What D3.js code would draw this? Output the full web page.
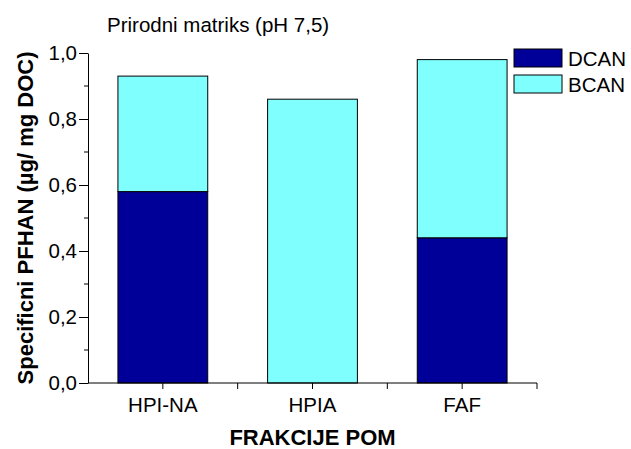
<!DOCTYPE html>
<html>
<head>
<meta charset="utf-8">
<script src="https://cdn.jsdelivr.net/npm/d3@7"></script>
<style>
  html, body { margin: 0; padding: 0; background: #fff; }
  svg { display: block; font-family: "Liberation Sans", Arial, sans-serif; }
</style>
</head>
<body>
<svg id="chart" width="631" height="449"></svg>
<script>
// Fractions and their stacked components
const categories = ["HPI-NA", "HPIA", "FAF"];
const seriesNames = ["DCAN", "BCAN"];
const dcan = [0.58, 0.0, 0.44];
const bcan = [0.35, 0.86, 0.54];
const yTicks = [0.0, 0.2, 0.4, 0.6, 0.8, 1.0];
const yMinorTicks = [0.1, 0.3, 0.5, 0.7, 0.9];
const colors = ["#000099", "#80FFFF"];

const svg = d3.select("#chart");
const margin = { left: 88, right: 94, top: 53, bottom: 66 };
const W = 631, H = 449;
const FS = 20.5;

const x = d3.scaleBand().domain(categories)
  .range([margin.left, W - margin.right]).paddingInner(0.4).paddingOuter(0.2);
const y = d3.scaleLinear().domain([0, 1]).range([H - margin.bottom, margin.top]);

const rows = categories.map((c, i) => ({ cat: c, DCAN: dcan[i], BCAN: bcan[i] }));
const stacked = d3.stack().keys(seriesNames)(rows);

// Stacked bars
svg.append("g").selectAll("g").data(stacked).join("g")
  .attr("fill", (d, i) => colors[i])
  .selectAll("rect").data(d => d.filter(v => v[1] - v[0] > 0)).join("rect")
  .attr("x", d => x(d.data.cat))
  .attr("width", x.bandwidth())
  .attr("y", d => y(d[1]))
  .attr("height", d => y(d[0]) - y(d[1]))
  .attr("stroke", "#000").attr("stroke-width", 1);

// Y axis with decimal-comma labels
const fmt = v => d3.format(".1f")(v).replace(".", ",");
const yAxis = svg.append("g").attr("transform", `translate(${margin.left},0)`)
  .call(d3.axisLeft(y).tickValues(yTicks).tickFormat(fmt).tickSize(9).tickPadding(2).tickSizeOuter(0));
yAxis.selectAll("text").attr("font-size", FS).attr("fill", "#000").attr("font-family", null);
yAxis.selectAll("line, path").attr("stroke", "#000");
// minor ticks
yAxis.selectAll("line.minor").data(yMinorTicks).join("line")
  .attr("class", "minor").attr("x1", -4).attr("x2", 0)
  .attr("y1", d => y(d)).attr("y2", d => y(d)).attr("stroke", "#000");

// X axis: ticks at category centres and band boundaries
const x0 = margin.left, x1 = W - margin.right;
const step = (x1 - x0) / categories.length;
const xg = svg.append("g");
xg.append("line").attr("x1", x0).attr("x2", x1)
  .attr("y1", y(0)).attr("y2", y(0)).attr("stroke", "#000");
const tickXs = d3.range(1, categories.length * 2 + 1).map(k => x0 + k * step / 2);
xg.selectAll("line.t").data(tickXs).join("line").attr("class", "t")
  .attr("x1", d => d).attr("x2", d => d)
  .attr("y1", y(0)).attr("y2", y(0) + 6).attr("stroke", "#000");
xg.selectAll("text").data(categories).join("text")
  .attr("x", d => x(d) + x.bandwidth() / 2).attr("y", 412)
  .attr("text-anchor", "middle").attr("font-size", FS).text(d => d);

// Titles
svg.append("text").attr("x", 107).attr("y", 32).attr("font-size", FS).text("Prirodni matriks (pH 7,5)");
svg.append("text").attr("x", (x0 + x1) / 2).attr("y", 445).attr("text-anchor", "middle")
  .attr("font-size", 22).attr("font-weight", "bold").text("FRAKCIJE POM");
svg.append("text").attr("transform", `translate(33,${(y(0) + y(1)) / 2}) rotate(-90)`)
  .attr("text-anchor", "middle").attr("font-size", 22).attr("font-weight", "bold")
  .text("Specificni PFHAN (µg/ mg DOC)");

// Legend
const lg = svg.append("g").attr("transform", "translate(514,49)");
seriesNames.forEach((s, i) => {
  lg.append("rect").attr("x", 0).attr("y", i * 26).attr("width", 48).attr("height", 18)
    .attr("fill", colors[i]).attr("stroke", "#000");
  lg.append("text").attr("x", 54).attr("y", i * 26 + 17).attr("font-size", FS).text(s);
});
</script>
</body>
</html>
